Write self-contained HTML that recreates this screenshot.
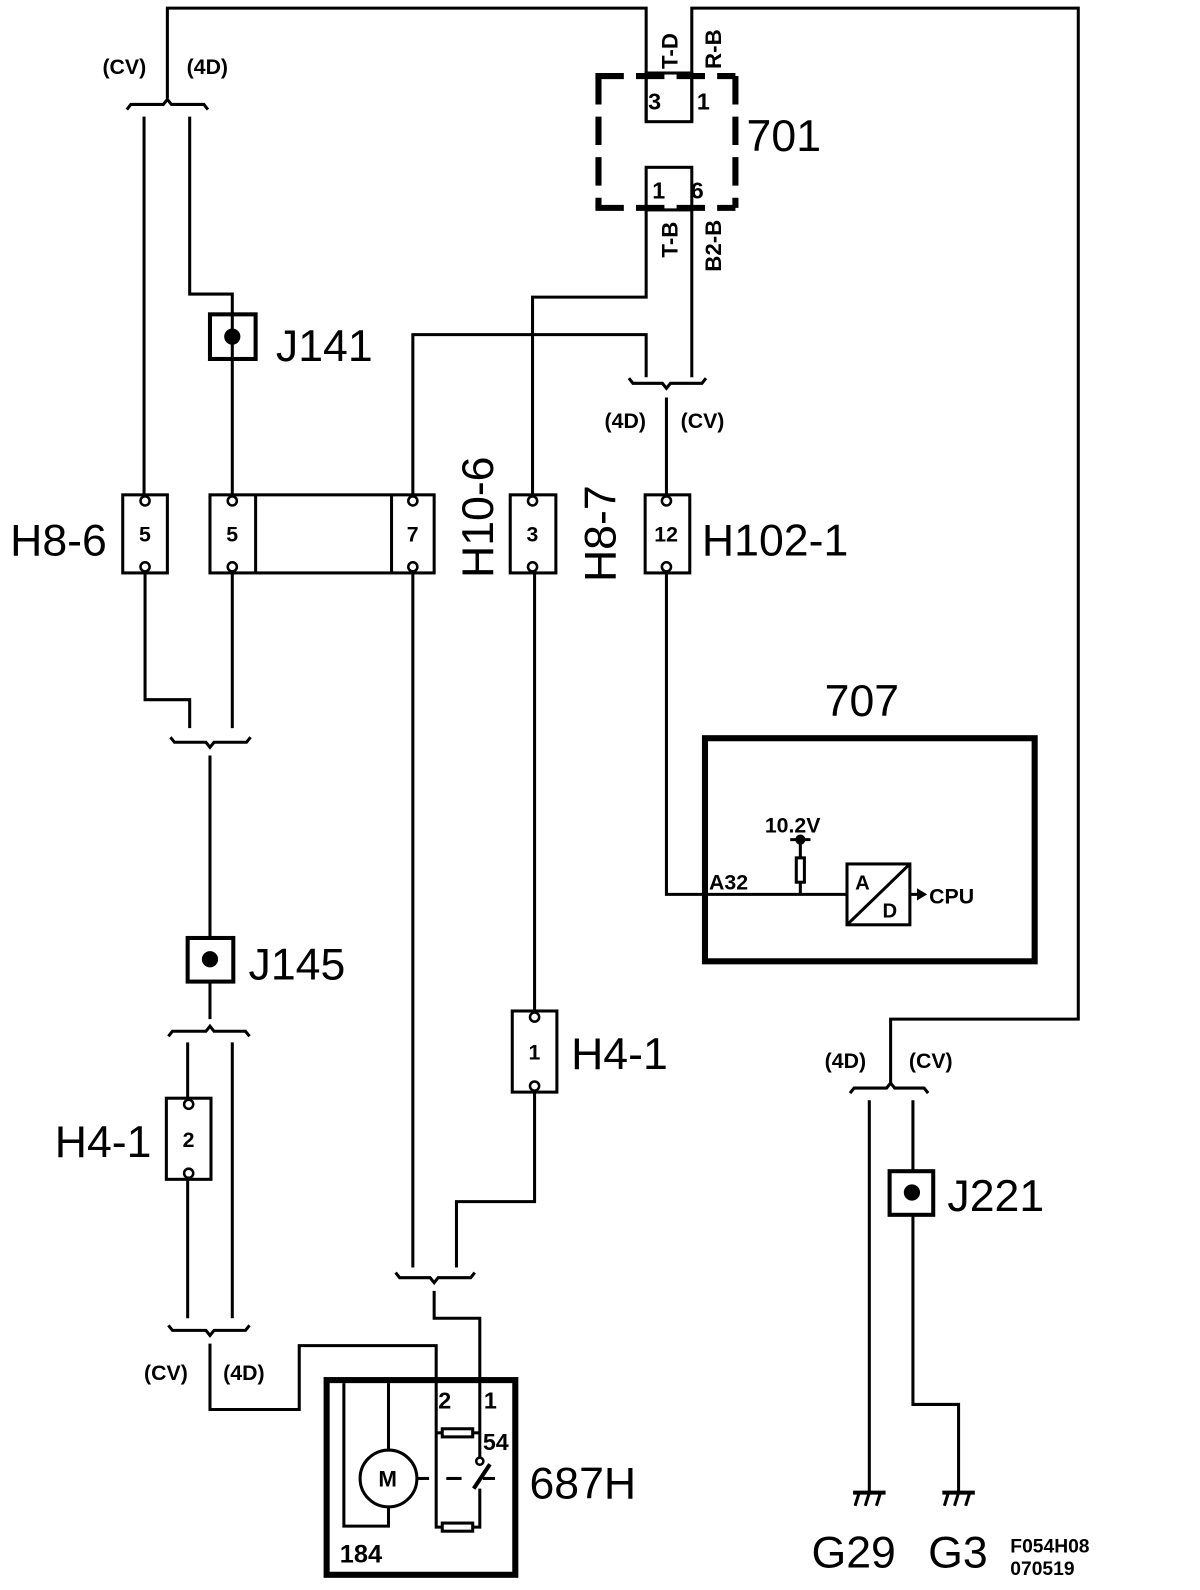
<!DOCTYPE html>
<html><head><meta charset="utf-8"><style>
html,body{margin:0;padding:0;background:#fff;}
svg{display:block;}
text{font-family:"Liberation Sans",Arial,sans-serif;fill:#000;}
</style></head><body>
<svg width="1200" height="1590" viewBox="0 0 1183 1568" preserveAspectRatio="none" xmlns="http://www.w3.org/2000/svg">
<g fill="none" stroke="#000" stroke-width="3" stroke-linejoin="miter" stroke-linecap="butt">
<polyline points="165,97 165,8 637,8 637,120"/>
<polyline points="682,120 682,8 1063,8 1063,1005 878,1005 878,1068"/>
<path d="M125,108 L129,103 L161,103 L165,98 L169,103 L201,103 L205,108"/>
<polyline points="142,115 142,488"/>
<polyline points="187,115 187,290 229,290 229,488"/>
<!-- 701 dashed -->
<g stroke-width="6" stroke-dasharray="28 12">
<line x1="587" y1="75" x2="725" y2="75"/>
<line x1="725" y1="75" x2="725" y2="205"/>
<line x1="587" y1="205" x2="725" y2="205"/>
<line x1="590" y1="75" x2="590" y2="205"/>
</g>
<rect x="637" y="72" width="45" height="48"/>
<rect x="637" y="165" width="45" height="42"/>
<polyline points="637,207 637,293 525,293 525,488"/>
<polyline points="682,207 682,372"/>
<polyline points="407,488 407,330 637,330 637,372"/>
<path d="M620,373 L624,378 L653,378 L657,383 L661,378 L692,378 L696,373"/>
<polyline points="657,392 657,488"/>
<rect x="207" y="310" width="45" height="44" stroke-width="4"/>
<rect x="121" y="488" width="44" height="77"/>
<rect x="207" y="488" width="221" height="77"/>
<line x1="252" y1="488" x2="252" y2="565"/>
<line x1="386" y1="488" x2="386" y2="565"/>
<rect x="503" y="488" width="45" height="77"/>
<rect x="636" y="488" width="44" height="77"/>
<polyline points="143,565 143,690 187,690 187,718"/>
<polyline points="229,565 229,718"/>
<path d="M168,727 L172,732 L203,732 L207,737 L211,732 L243,732 L247,727"/>
<polyline points="207,745 207,925"/>
<rect x="185" y="925" width="45" height="43" stroke-width="4"/>
<polyline points="207,968 207,1005"/>
<path d="M166,1022 L170,1017 L203,1017 L207,1012 L211,1017 L242,1017 L246,1022"/>
<polyline points="185,1028 185,1083"/>
<polyline points="229,1028 229,1300"/>
<rect x="164" y="1083" width="44" height="80"/>
<polyline points="185,1163 185,1300"/>
<path d="M166,1307 L170,1312 L203,1312 L207,1317 L211,1312 L242,1312 L246,1307"/>
<polyline points="207,1325 207,1390 295,1390 295,1327 430,1327 430,1506 436,1506"/>
<polyline points="407,565 407,1250"/>
<polyline points="527,565 527,997"/>
<rect x="505" y="997" width="44" height="80"/>
<polyline points="527,1077 527,1185 450,1185 450,1250"/>
<path d="M390,1255 L394,1260 L424,1260 L428,1265 L432,1260 L464,1260 L468,1255"/>
<polyline points="428,1273 428,1300 473,1300 473,1437"/>
<rect x="322" y="1361" width="186" height="192" stroke-width="6"/>
<polyline points="339,1364 339,1505 383,1505 383,1486"/>
<line x1="383" y1="1364" x2="383" y2="1430"/>
<circle cx="383" cy="1458" r="28"/>
<line x1="411" y1="1458" x2="423" y2="1458"/>
<line x1="440" y1="1458" x2="455" y2="1458"/>
<line x1="476" y1="1458" x2="488" y2="1458"/>
<polyline points="430,1413 436,1413"/>
<rect x="436" y="1409" width="30" height="8"/>
<polyline points="466,1413 473,1413"/>
<rect x="436" y="1502" width="30" height="8"/>
<polyline points="466,1506 473,1506 473,1468"/>
<line x1="467" y1="1468" x2="483" y2="1444" stroke-width="4"/>
<circle cx="473" cy="1441" r="3.5" stroke-width="2.5"/>
<rect x="695" y="728" width="325" height="220" stroke-width="6"/>
<polyline points="657,565 657,882 835,882"/>
<rect x="835" y="852" width="62" height="60"/>
<line x1="835" y1="912" x2="897" y2="852"/>
<line x1="897" y1="882" x2="905" y2="882"/>
<line x1="789" y1="882" x2="789" y2="870"/>
<rect x="785" y="846" width="8" height="24"/>
<line x1="789" y1="846" x2="789" y2="828"/>
<line x1="779" y1="828" x2="799" y2="828"/>
<path d="M838,1078 L842,1073 L874,1073 L878,1068 L882,1073 L911,1073 L915,1078"/>
<polyline points="857,1085 857,1471"/>
<polyline points="900,1085 900,1155"/>
<rect x="877" y="1155" width="43" height="43" stroke-width="4"/>
<polyline points="900,1198 900,1385 945,1385 945,1471"/>
<line x1="841" y1="1472" x2="873" y2="1472" stroke-width="4"/>
<path d="M847,1472 L843,1485 M857,1472 L853,1485 M868,1472 L864,1485" stroke-width="3"/>
<line x1="929" y1="1472" x2="961" y2="1472" stroke-width="4"/>
<path d="M935,1472 L931,1485 M945,1472 L941,1485 M956,1472 L952,1485" stroke-width="3"/>
</g>
<g fill="#000">
<circle cx="229" cy="332" r="8"/>
<circle cx="207" cy="946" r="8"/>
<circle cx="899" cy="1176" r="8"/>
<circle cx="789" cy="828" r="5"/>
<polygon points="904,876 914,882 904,888"/>
</g>
<g fill="#fff" stroke="#000" stroke-width="2.5">
<circle cx="143" cy="494" r="4.5"/><circle cx="143" cy="559" r="4.5"/>
<circle cx="229" cy="494" r="4.5"/><circle cx="229" cy="559" r="4.5"/>
<circle cx="407" cy="494" r="4.5"/><circle cx="407" cy="559" r="4.5"/>
<circle cx="525" cy="494" r="4.5"/><circle cx="525" cy="559" r="4.5"/>
<circle cx="657" cy="494" r="4.5"/><circle cx="657" cy="559" r="4.5"/>
<circle cx="186" cy="1089" r="4.5"/><circle cx="186" cy="1157" r="4.5"/>
<circle cx="527" cy="1003" r="4.5"/><circle cx="527" cy="1071" r="4.5"/>
</g>
<g font-size="21" font-weight="bold">
<text x="101" y="73">(CV)</text><text x="184" y="73">(4D)</text>
<text x="596" y="422">(4D)</text><text x="671" y="422">(CV)</text>
<text x="142" y="1361">(CV)</text><text x="220" y="1361">(4D)</text>
<text x="813" y="1053">(4D)</text><text x="896" y="1053">(CV)</text>
<text x="137" y="534">5</text><text x="223" y="534">5</text><text x="401" y="534">7</text>
<text x="519" y="534">3</text><text x="645" y="534">12</text>
<text x="180" y="1131">2</text><text x="521" y="1045">1</text>
<text x="639" y="108" font-size="23">3</text><text x="687" y="108" font-size="23">1</text>
<text x="643" y="196" font-size="23">1</text><text x="681" y="196" font-size="23">6</text>
<text x="699" y="877">A32</text>
<text x="754" y="821">10.2V</text>
<text x="916" y="891">CPU</text>
<text x="843" y="877" font-size="20">A</text>
<text x="870" y="905" font-size="20">D</text>
<text x="432" y="1389" font-size="23">2</text><text x="477" y="1389" font-size="23">1</text>
<text x="476" y="1430" font-size="23">54</text>
<text x="335" y="1541" font-size="25">184</text>
<text x="373" y="1466" font-size="22">M</text>
<text x="996" y="1531" font-size="19">F054H08</text>
<text x="996" y="1553" font-size="19">070519</text>
</g>
<g font-size="22" font-weight="bold">
<text transform="translate(668,68) rotate(-90)">T-D</text>
<text transform="translate(711,68) rotate(-90)">R-B</text>
<text transform="translate(668,254) rotate(-90)">T-B</text>
<text transform="translate(711,268) rotate(-90)">B2-B</text>
</g>
<g font-size="44">
<text x="10" y="548">H8-6</text>
<text x="272" y="356">J141</text>
<text x="692" y="548">H102-1</text>
<text x="736" y="149">701</text>
<text x="813" y="706">707</text>
<text x="245" y="966">J145</text>
<text x="563" y="1054">H4-1</text>
<text x="54" y="1141">H4-1</text>
<text x="934" y="1194">J221</text>
<text x="522" y="1478">687H</text>
<text x="800" y="1546">G29</text>
<text x="915" y="1546">G3</text>
<text transform="translate(486,570) rotate(-90)">H10-6</text>
<text transform="translate(607,574) rotate(-90)">H8-7</text>
</g>
</svg>
</body></html>
